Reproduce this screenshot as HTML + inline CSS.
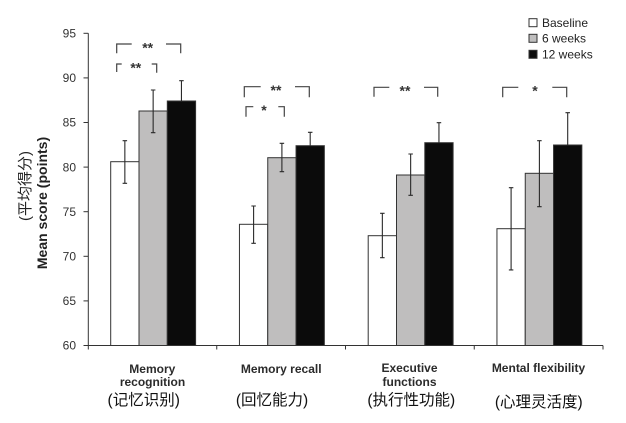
<!DOCTYPE html>
<html><head><meta charset="utf-8"><style>
html,body{margin:0;padding:0;background:#fff;}
svg{display:block;}
</style></head><body>
<svg width="626" height="423" viewBox="0 0 626 423" xmlns="http://www.w3.org/2000/svg" font-family="'Liberation Sans', Arial, sans-serif">
<rect width="626" height="423" fill="#fff"/>
<!-- y axis -->
<g stroke="#333" stroke-width="1" fill="none">
<line x1="88.3" y1="33.3" x2="88.3" y2="345.5"/>
<line x1="83.5" y1="33.3" x2="88.3" y2="33.3"/>
<line x1="83.5" y1="77.9" x2="88.3" y2="77.9"/>
<line x1="83.5" y1="122.5" x2="88.3" y2="122.5"/>
<line x1="83.5" y1="167.1" x2="88.3" y2="167.1"/>
<line x1="83.5" y1="211.7" x2="88.3" y2="211.7"/>
<line x1="83.5" y1="256.3" x2="88.3" y2="256.3"/>
<line x1="83.5" y1="300.9" x2="88.3" y2="300.9"/>
<line x1="83.5" y1="345.5" x2="88.3" y2="345.5"/>
<line x1="88" y1="345.5" x2="603" y2="345.5"/>
<line x1="88.3" y1="345.5" x2="88.3" y2="349.5"/>
<line x1="216.75" y1="345.5" x2="216.75" y2="349.5"/>
<line x1="345.5" y1="345.5" x2="345.5" y2="349.5"/>
<line x1="474.25" y1="345.5" x2="474.25" y2="349.5"/>
<line x1="603" y1="345.5" x2="603" y2="349.5"/>
</g>
<g font-size="12" fill="#333" text-anchor="end">
<text x="76" y="37.5">95</text>
<text x="76" y="82.1">90</text>
<text x="76" y="126.7">85</text>
<text x="76" y="171.3">80</text>
<text x="76" y="215.9">75</text>
<text x="76" y="260.5">70</text>
<text x="76" y="305.1">65</text>
<text x="76" y="349.7">60</text>
</g>
<text transform="translate(47,203) rotate(-90)" text-anchor="middle" font-size="14" font-weight="bold" fill="#222">Mean score (points)</text>
<text transform="translate(30,186) rotate(-90)" text-anchor="middle" font-size="15" fill="#222" font-family="'Liberation Sans','Noto Sans CJK SC',sans-serif">(平均得分)</text>

<!-- bars -->
<g stroke="#333" stroke-width="1">
<!-- G1 -->
<rect x="110.7" y="161.7" width="28.3" height="183.8" fill="#fff"/>
<rect x="139" y="111" width="28.3" height="234.5" fill="#bfbebe"/>
<rect x="167.3" y="101" width="28.3" height="244.5" fill="#0b0b0b"/>
<!-- G2 -->
<rect x="239.45" y="224.3" width="28.3" height="121.2" fill="#fff"/>
<rect x="267.75" y="157.7" width="28.3" height="187.8" fill="#bfbebe"/>
<rect x="296.05" y="145.7" width="28.3" height="199.8" fill="#0b0b0b"/>
<!-- G3 -->
<rect x="368.2" y="235.7" width="28.3" height="109.8" fill="#fff"/>
<rect x="396.5" y="175" width="28.3" height="170.5" fill="#bfbebe"/>
<rect x="424.8" y="142.7" width="28.3" height="202.8" fill="#0b0b0b"/>
<!-- G4 -->
<rect x="496.95" y="228.7" width="28.3" height="116.8" fill="#fff"/>
<rect x="525.25" y="173.3" width="28.3" height="172.2" fill="#bfbebe"/>
<rect x="553.55" y="145" width="28.3" height="200.5" fill="#0b0b0b"/>
</g>

<!-- error bars -->
<g stroke="#2a2a2a" stroke-width="1.1" fill="none">
<path d="M124.85 140.7V183.3M122.6 140.7H127.1M122.6 183.3H127.1"/>
<path d="M153.15 90V132.7M150.9 90H155.4M150.9 132.7H155.4"/>
<path d="M181.45 80.7V101M179.2 80.7H183.7"/>

<path d="M253.6 206V243.3M251.35 206H255.85M251.35 243.3H255.85"/>
<path d="M281.9 143.3V171.7M279.65 143.3H284.15M279.65 171.7H284.15"/>
<path d="M310.2 132.3V145.7M307.95 132.3H312.45"/>

<path d="M382.35 213.3V257.7M380.1 213.3H384.6M380.1 257.7H384.6"/>
<path d="M410.65 154V195.3M408.4 154H412.9M408.4 195.3H412.9"/>
<path d="M438.95 122.7V142.7M436.7 122.7H441.2"/>

<path d="M511.1 187.7V269.9M508.85 187.7H513.35M508.85 269.9H513.35"/>
<path d="M539.4 140.7V206.7M537.15 140.7H541.65M537.15 206.7H541.65"/>
<path d="M567.7 112.7V145M565.45 112.7H569.95"/>
</g>

<!-- significance brackets -->
<g stroke="#444" stroke-width="1.2" fill="none">
<path d="M116.7 53.3V44H131.7M166 44H180.7V53.3"/>
<path d="M116.7 72V64H121.7M151.7 64H156.7V72.7"/>
<path d="M244.3 97.3V86.7H260.7M295 86.7H309.3V97.3"/>
<path d="M246 116.7V106.7H253.3M278.3 106.7H284.3V116.7"/>
<path d="M374 96.7V87.3H389.3M424 87.3H437.7V96.7"/>
<path d="M502.7 97.3V87.3H518.3M552.3 87.3H566.7V97.3"/>
</g>
<g font-size="14" font-weight="bold" fill="#333" text-anchor="middle">
<text x="147.7" y="52.3">**</text>
<text x="135.8" y="72.3">**</text>
<text x="276" y="95">**</text>
<text x="264" y="115">*</text>
<text x="405" y="95.6">**</text>
<text x="535" y="95.6">*</text>
</g>

<!-- legend -->
<g stroke="#333" stroke-width="1">
<rect x="529" y="18.7" width="8" height="8" fill="#fff"/>
<rect x="529" y="34.3" width="8" height="8" fill="#bfbebe"/>
<rect x="529" y="50.3" width="8" height="8" fill="#0b0b0b"/>
</g>
<g font-size="12" fill="#222">
<text x="542" y="27">Baseline</text>
<text x="542" y="42.6">6 weeks</text>
<text x="542" y="58.6">12 weeks</text>
</g>

<!-- category labels -->
<g font-size="12" font-weight="bold" fill="#2b2b2b" text-anchor="middle">
<text x="152.3" y="373">Memory</text>
<text x="152.5" y="386">recognition</text>
<text x="281.2" y="373">Memory recall</text>
<text x="409.5" y="372">Executive</text>
<text x="409.5" y="386">functions</text>
<text x="538.5" y="372">Mental flexibility</text>
</g>
<g font-size="15.5" fill="#111" text-anchor="middle" font-family="'Liberation Sans','Noto Sans CJK SC',sans-serif">
<text x="143.7" y="405">(记忆识别)</text>
<text x="272" y="405">(回忆能力)</text>
<text x="411.3" y="405">(执行性功能)</text>
<text x="538.8" y="407">(心理灵活度)</text>
</g>
</svg>
</body></html>
